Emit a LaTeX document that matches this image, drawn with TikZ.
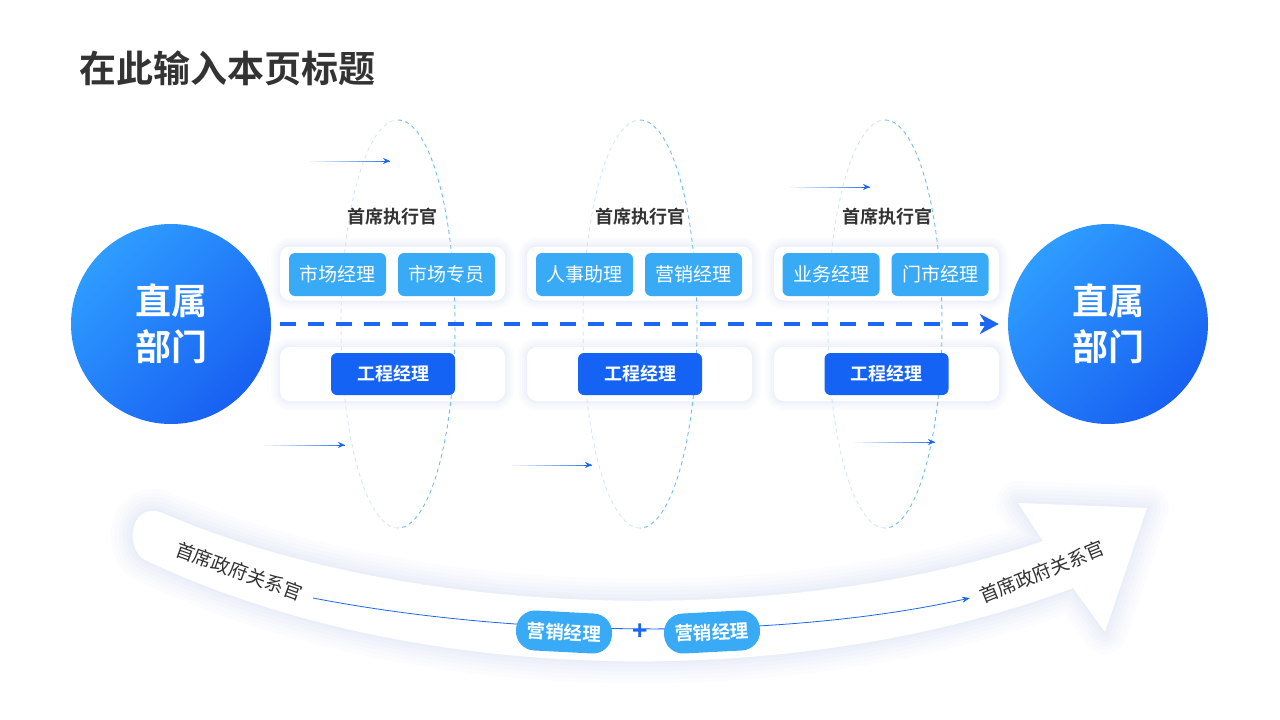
\documentclass[tikz,border=0pt]{standalone}
\usepackage{fontspec}
\setmainfont{Noto Sans CJK SC}[BoldFont={* Bold}]
\usetikzlibrary{arrows.meta,calc}
\definecolor{titlec}{HTML}{333333}
\definecolor{chipL}{HTML}{38AAF6}
\definecolor{chipD}{HTML}{1463F5}
\definecolor{arrowB}{HTML}{1B66F2}
\definecolor{ellR}{HTML}{72BDF0}
\definecolor{ellL}{HTML}{D2E8F8}
\definecolor{shadowB}{HTML}{C9D6F6}
\definecolor{circL}{HTML}{2E9DFF}
\definecolor{circD}{HTML}{1860F2}
\tikzset{
  panel/.style={rounded corners=10pt, fill=white, minimum width=225pt, minimum height=54pt,
    preaction={draw=shadowB, line width=18pt, opacity=0.05},
    preaction={draw=shadowB, line width=14pt, opacity=0.05},
    preaction={draw=shadowB, line width=10pt, opacity=0.06},
    preaction={draw=shadowB, line width=6pt, opacity=0.07},
    preaction={draw=shadowB, line width=3pt, opacity=0.08}},
  chipl/.style={rounded corners=6pt, fill=chipL, text=white, minimum width=97pt, minimum height=43pt,
    inner sep=0pt, font=\fontsize{19}{22}\selectfont},
  chipd/.style={rounded corners=6pt, fill=chipD, text=white, minimum width=124pt, minimum height=42pt,
    inner sep=0pt, font=\bfseries\fontsize{18}{22}\selectfont},
  ceo/.style={text=titlec, font=\bfseries\fontsize{18}{22}\selectfont},
  bigcirc/.style={circle, minimum size=200pt, inner sep=0pt, top color=circL, bottom color=circD,
    shading angle=45, text=white, align=center, font=\bfseries\fontsize{36}{46}\selectfont},
  pill/.style={rounded corners=19pt, fill=chipL, text=white, minimum width=96pt, minimum height=40pt,
    inner sep=0pt, font=\bfseries\fontsize{18.5}{22}\selectfont},
  govt/.style={text=titlec, font=\fontsize{19}{22}\selectfont},
  elldash/.style={line width=0.9pt, dash pattern=on 4pt off 3.5pt},
}
\begin{document}
\begin{tikzpicture}[x=1pt,y=-1pt]
\useasboundingbox (0,0) rectangle (1280,720);
\fill[white] (0,0) rectangle (1280,720);

% title
\node[anchor=west, inner sep=0pt, text=titlec, font=\bfseries\fontsize{37}{42}\selectfont] (title) at (79,68) {在此输入本页标题};

% bottom big curved arrow (soft shadow + white band)
\path[line join=round, fill=white,
  preaction={draw=shadowB, line width=44pt, opacity=0.05, line join=round},
  preaction={draw=shadowB, line width=36pt, opacity=0.05, line join=round},
  preaction={draw=shadowB, line width=28pt, opacity=0.06, line join=round},
  preaction={draw=shadowB, line width=20pt, opacity=0.07, line join=round},
  preaction={draw=shadowB, line width=12pt, opacity=0.08, line join=round},
  preaction={draw=shadowB, line width=5pt, opacity=0.10, line join=round}]
  (160,512) .. controls (420,625) and (800,625) .. (1043,541)
  -- (1018,503) -- (1147,508) -- (1105,632) -- (1073,588)
  .. controls (800,690) and (420,690) .. (145,560)
  .. controls (126,551) and (128,503) .. (160,512) -- cycle;

% panels
\foreach \cx/\n in {392.5/1, 639.5/2, 886.5/3}{
  \node[panel] (top\n) at (\cx,273.5) {};
  \node[panel] (bot\n) at (\cx,374) {};
}

% dashed ellipses (drawn over panels)
\foreach \cx in {398, 640, 885}{
  \draw[ellR, elldash] (\cx,120) arc[start angle=-90, end angle=90, x radius=57, y radius=204];
  \draw[ellL, elldash] (\cx,528) arc[start angle=90, end angle=270, x radius=57, y radius=204];
}

% chips
\node[chipl] (c11) at (337.5,274.5) {市场经理};
\node[chipl] (c12) at (446.5,274.5) {市场专员};
\node[chipl] (c21) at (584.5,274.5) {人事助理};
\node[chipl] (c22) at (693.5,274.5) {营销经理};
\node[chipl] (c31) at (831,274.5) {业务经理};
\node[chipl] (c32) at (940,274.5) {门市经理};
\node[chipd] (d1) at (393,374) {工程经理};
\node[chipd] (d2) at (640,374) {工程经理};
\node[chipd] (d3) at (886.5,374) {工程经理};

% ceo labels
\node[ceo] (e1) at (392,217) {首席执行官};
\node[ceo] (e2) at (640,217) {首席执行官};
\node[ceo] (e3) at (887,217) {首席执行官};

% circles
\node[bigcirc] (L) at (171,324) {直属\\部门};
\node[bigcirc] (R) at (1108,324) {直属\\部门};

% main dashed arrow
\draw[arrowB, line width=4pt, dash pattern=on 16pt off 12pt,
  -{Stealth[length=19pt, width=20pt, inset=6pt]}] ($(L.east)+(9,0)$) -- ($(R.west)+(-9,0)$);

% small faded arrows
\foreach \x/\y/\n in {310/161/1, 265/445/2, 512/465/3, 790/187/4, 855/442/5}{
  \coordinate (s\n) at (\x,\y);
  \coordinate (t\n) at (\x+80,\y);
  \foreach \i in {0,...,9}{
    \draw[arrowB, line width=0.8pt, opacity={0.08+0.09*\i}]
      ($(s\n)!{\i/10}!(t\n)$) -- ($(s\n)!{(\i+1)/10}!(t\n)$);
  }
  \draw[arrowB, line width=0.8pt, -{Stealth[length=7pt, width=6pt]}] ($(s\n)!0.9!(t\n)$) -- (t\n);
}

% bottom thin curve with pills
\coordinate (bs) at (313,598);
\coordinate (be) at (970,598);
\draw[arrowB, line width=0.8pt, -{Stealth[length=8pt, width=6pt]}] (bs) .. controls (520,638) and (780,640) .. (be);
\node[pill, rotate=-3] (p1) at (564,632) {营销经理};
\node[pill, rotate=3] (p2) at (712,632) {营销经理};
\node[text=arrowB, font=\bfseries\fontsize{26}{26}\selectfont, inner sep=0pt] (plus) at (640,632) {+};

% rotated labels on the band
\node[govt, rotate=-20] (g1) at (239,571) {首席政府关系官};
\node[govt, rotate=22] (g2) at (1042,572) {首席政府关系官};
\end{tikzpicture}
\end{document}
